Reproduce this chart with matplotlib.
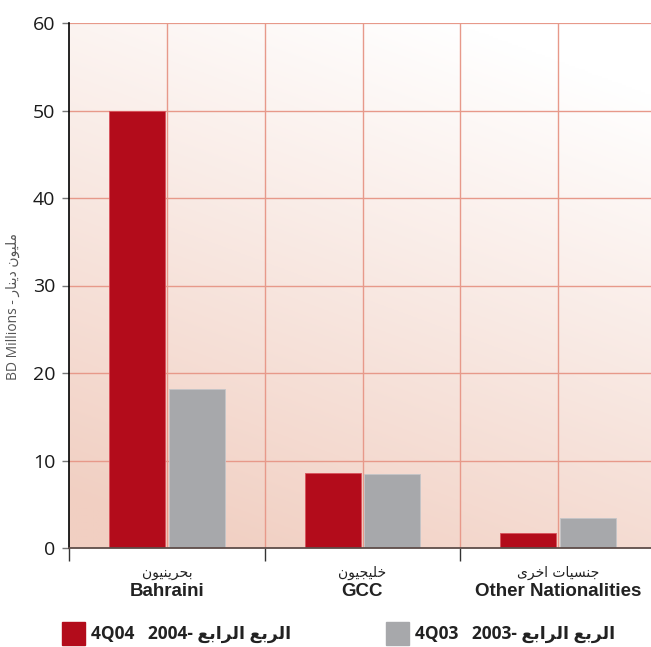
import numpy as np
import matplotlib
matplotlib.use("Agg")
import matplotlib.pyplot as plt

# ---------------- data ----------------
categories_en = ["Bahraini", "GCC", "Other Nationalities"]
categories_ar = ["بحرينيون", "خليجيون", "جنسيات اخرى"]
values_4q04 = [50.0, 8.55, 1.75]
values_4q03 = [18.2, 8.45, 3.4]
legend_4q04 = "4Q04   2004-"
legend_4q03 = "4Q03   2003-"
legend_ar = "الربع الرابع"
ylabel_en = "BD Millions - "
ylabel_ar = "مليون دينار"
yticks = [0, 10, 20, 30, 40, 50, 60]

RED = "#b30c1b"
GREY = "#a7a8ab"

# ------------- minimal Arabic shaping (presentation forms) -------------
FORMS = {
    'ا': ('\uFE8D', '\uFE8E', None, None),
    'ب': ('\uFE8F', '\uFE90', '\uFE91', '\uFE92'),
    'ت': ('\uFE95', '\uFE96', '\uFE97', '\uFE98'),
    'ج': ('\uFE9D', '\uFE9E', '\uFE9F', '\uFEA0'),
    'ح': ('\uFEA1', '\uFEA2', '\uFEA3', '\uFEA4'),
    'خ': ('\uFEA5', '\uFEA6', '\uFEA7', '\uFEA8'),
    'د': ('\uFEA9', '\uFEAA', None, None),
    'ر': ('\uFEAD', '\uFEAE', None, None),
    'س': ('\uFEB1', '\uFEB2', '\uFEB3', '\uFEB4'),
    'ع': ('\uFEC9', '\uFECA', '\uFECB', '\uFECC'),
    'ل': ('\uFEDD', '\uFEDE', '\uFEDF', '\uFEE0'),
    'م': ('\uFEE1', '\uFEE2', '\uFEE3', '\uFEE4'),
    'ن': ('\uFEE5', '\uFEE6', '\uFEE7', '\uFEE8'),
    'و': ('\uFEED', '\uFEEE', None, None),
    'ى': ('\uFEEF', '\uFEF0', None, None),
    'ي': ('\uFEF1', '\uFEF2', '\uFEF3', '\uFEF4'),
}


def shape(text):
    out = []
    n = len(text)
    for i, c in enumerate(text):
        if c not in FORMS:
            out.append(c)
            continue
        p = text[i - 1] if i > 0 else None
        nx = text[i + 1] if i + 1 < n else None
        prevj = p in FORMS and FORMS[p][2] is not None
        nextj = FORMS[c][2] is not None and nx in FORMS
        iso, fin, ini, med = FORMS[c]
        if prevj and nextj:
            out.append(med)
        elif prevj:
            out.append(fin)
        elif nextj:
            out.append(ini)
        else:
            out.append(iso)
    return "".join(out)[::-1]


# ---------------- figure ----------------
W, H = 651, 647
fig = plt.figure(figsize=(W / 100, H / 100), dpi=100)
ax_l, ax_r, ax_t, ax_b = 69, 656, 23, 548
ax = fig.add_axes([ax_l / W, 1 - ax_b / H, (ax_r - ax_l) / W, (ax_b - ax_t) / H])

# gradient background
gx, gy = np.meshgrid(np.linspace(0, 1, 300), np.linspace(0, 1, 300))
p = np.clip((1 - gy) * 0.85 + (1 - gx) * 0.35 - 0.12, 0, 1)
pink = np.array([241, 207, 194]) / 255.0
img = (1 - p)[..., None] * np.ones(3) + p[..., None] * pink
ax.imshow(img, origin="lower", extent=(0, 1, 0, 1), transform=ax.transAxes,
          aspect="auto", zorder=0)

x = np.arange(len(categories_en))
bw = 0.286
off = 0.153
ax.bar(x - off, values_4q04, bw, color=RED, edgecolor="#d8525c", linewidth=0.6, zorder=3)
ax.bar(x + off, values_4q03, bw, color=GREY, edgecolor="#c4c5c8", linewidth=0.6, zorder=3)

ax.set_xlim(-0.5, 2.5)
ax.set_ylim(0, 60)

# grid
for yv in yticks[1:]:
    ax.axhline(yv, color="#e7998a", lw=1.0 if yv < 60 else 1.6, zorder=1)
for xv in np.arange(0.0, 2.51, 0.5):
    ax.axvline(xv, color="#e7998a", lw=1.0, zorder=1)

for s in ["top", "right"]:
    ax.spines[s].set_visible(False)
ax.spines["left"].set_color("black")
ax.spines["left"].set_linewidth(1.2)
ax.spines["bottom"].set_color("#5e4d49")
ax.spines["bottom"].set_linewidth(1.3)
ax.spines["left"].set_zorder(4)
ax.spines["bottom"].set_zorder(4)

ax.set_yticks(yticks)
ax.set_yticklabels([str(v) for v in yticks], family="Open Sans", fontsize=14, color="#1a1a1a")
ax.tick_params(axis="y", length=5, width=1, color="#777777", pad=5)
ax.set_xticks([-0.5, 0.5, 1.5])
ax.set_xticklabels([])
ax.tick_params(axis="x", length=9, width=1, color="#333333", direction="out")

# category labels
for xi, ar, en in zip(x, categories_ar, categories_en):
    ax.text(xi, -2.8, shape(ar), ha="center", va="center", family="DejaVu Sans",
            fontsize=10, color="#222222")
    ax.text(xi, -5.0, en, ha="center", va="center",
            family=["Liberation Sans", "DejaVu Sans"], fontweight="bold",
            fontsize=13.5, color="#222222")

# y label
fig.text(13 / W, 1 - 306 / H, ylabel_en + shape(ylabel_ar), rotation=90,
         ha="center", va="center", family=["Open Sans", "DejaVu Sans"],
         fontsize=10, color="#555555")

# legend
sq = 23
for (x0, col, lab) in [(62, RED, legend_4q04), (386, GREY, legend_4q03)]:
    fig.patches.append(plt.Rectangle((x0 / W, 1 - 645 / H), sq / W, sq / H,
                                     transform=fig.transFigure, color=col))
    fig.text((x0 + 29) / W, 1 - 634 / H, lab + " " + shape(legend_ar),
             ha="left", va="center", family=["Open Sans", "DejaVu Sans"],
             fontweight="bold", fontsize=12.5, color="#222222")

fig.savefig("out.png", dpi=100)
